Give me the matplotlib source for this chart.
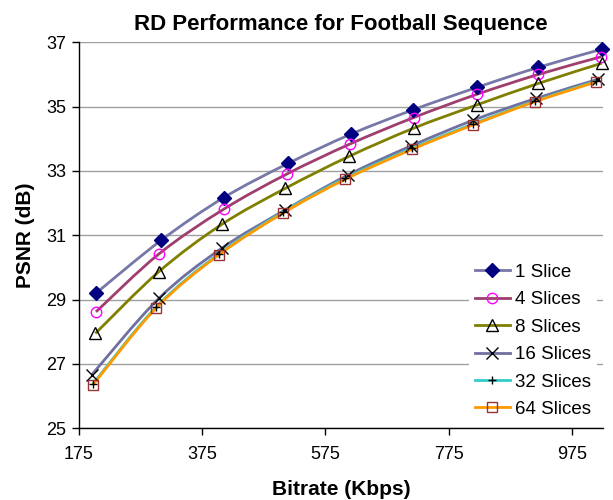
import numpy as np
import matplotlib
matplotlib.use("Agg")
import matplotlib.pyplot as plt
from matplotlib.path import Path
from matplotlib.patches import PathPatch
from matplotlib.lines import Line2D

plt.rcParams['font.family'] = ['Liberation Sans', 'DejaVu Sans']

title = "RD Performance for Football Sequence"
xlabel = "Bitrate (Kbps)"
ylabel = "PSNR (dB)"
series_names = ["1 Slice", "4 Slices", "8 Slices", "16 Slices", "32 Slices", "64 Slices"]

x_1 = [203, 309, 410, 515, 617, 717, 821, 920, 1024]
y_1 = [29.20, 30.85, 32.17, 33.24, 34.15, 34.90, 35.60, 36.22, 36.79]
x_4 = [203, 305, 410, 512, 615, 718, 820, 920, 1022]
y_4 = [28.62, 30.42, 31.81, 32.90, 33.84, 34.66, 35.38, 36.00, 36.55]
x_8 = [202, 305, 407, 510, 614, 718, 820, 920, 1023]
y_8 = [27.95, 29.87, 31.34, 32.46, 33.46, 34.33, 35.05, 35.72, 36.35]
x_16 = [196, 305, 407, 510, 611, 714, 815, 917, 1017]
y_16 = [26.66, 29.04, 30.60, 31.79, 32.87, 33.78, 34.58, 35.26, 35.85]
x_32 = [198, 301, 402, 507, 607, 715, 814, 914, 1014]
y_32 = [26.38, 28.78, 30.42, 31.73, 32.77, 33.70, 34.46, 35.17, 35.79]
x_64 = [198, 301, 402, 507, 607, 715, 814, 914, 1014]
y_64 = [26.35, 28.75, 30.39, 31.70, 32.74, 33.67, 34.43, 35.15, 35.77]

xticks = [175, 375, 575, 775, 975]
yticks = [25, 27, 29, 31, 33, 35, 37]

xs = [x_1, x_4, x_8, x_16, x_32, x_64]
ys = [y_1, y_4, y_8, y_16, y_32, y_64]
line_colors = ["#7777a8", "#9e3f6e", "#808000", "#7070a0", "#33cccc", "#ff9900"]
markers = ["D", "o", "^", "x", "+", "s"]
mfaces = ["#000080", "none", "none", "black", "black", "none"]
medges = ["#000080", "#ff00ff", "black", "black", "black", "#993333"]
msizes = [7, 7.5, 8.5, 8.5, 6, 7]

def smooth_path(x, y):
    p = np.column_stack([x, y]).astype(float)
    n = len(p)
    verts = [p[0]]
    codes = [Path.MOVETO]
    for i in range(n - 1):
        p0 = p[i - 1] if i > 0 else p[i]
        p1 = p[i]
        p2 = p[i + 1]
        p3 = p[i + 2] if i + 2 < n else p[i + 1]
        c1 = p1 + (p2 - p0) / 6.0
        c2 = p2 - (p3 - p1) / 6.0
        verts += [c1, c2, p2]
        codes += [Path.CURVE4] * 3
    return Path(verts, codes)

fig = plt.figure(figsize=(6.13, 5.0), dpi=100)
ax = fig.add_axes([0.1284, 0.1434, 0.8553, 0.772])

for x, y, lc, m, mf, me, ms in zip(xs, ys, line_colors, markers, mfaces, medges, msizes):
    ax.add_patch(PathPatch(smooth_path(x, y), facecolor="none", edgecolor=lc, lw=2.0, zorder=3))
    ax.plot(x, y, linestyle="none", marker=m, markersize=ms, markerfacecolor=mf,
            markeredgecolor=me, markeredgewidth=1.0, zorder=4, clip_on=False)

ax.set_xlim(175, 1025)
ax.set_ylim(25, 37)
ax.set_xticks(xticks)
ax.set_yticks(yticks)
ax.set_xticklabels([str(t) for t in xticks])
ax.set_yticklabels([str(t) for t in yticks])
ax.tick_params(axis="both", direction="out", length=5, width=1, labelsize=13, colors="black", pad=4)
ax.tick_params(axis="x", pad=8)
for s in ["top", "right"]:
    ax.spines[s].set_visible(False)
for s in ["left", "bottom"]:
    ax.spines[s].set_linewidth(1.0)
ax.grid(axis="y", color="#a0a0a0", linewidth=1.0)
ax.set_axisbelow(True)

ax.set_title(title, fontsize=16, fontweight="bold", pad=9)
ax.set_xlabel(xlabel, fontsize=15, fontweight="bold", labelpad=12)
ax.set_ylabel(ylabel, fontsize=15, fontweight="bold", labelpad=8)

handles = [Line2D([], [], color=lc, lw=2, marker=m, markersize=ms, markerfacecolor=mf,
                  markeredgecolor=me, markeredgewidth=1.0)
           for lc, m, mf, me, ms in zip(line_colors, markers, mfaces, medges, msizes)]
leg = ax.legend(handles, series_names, loc="lower left", bbox_to_anchor=(0.7445, 0.012),
                borderaxespad=0, frameon=True, fontsize=13.5, handlelength=1.9,
                handletextpad=0.25, labelspacing=0.55, borderpad=0.3)
leg.get_frame().set_edgecolor("none")
leg.get_frame().set_facecolor("white")
leg.get_frame().set_alpha(1.0)
leg.set_zorder(5)

fig.savefig("out.png", dpi=100)
